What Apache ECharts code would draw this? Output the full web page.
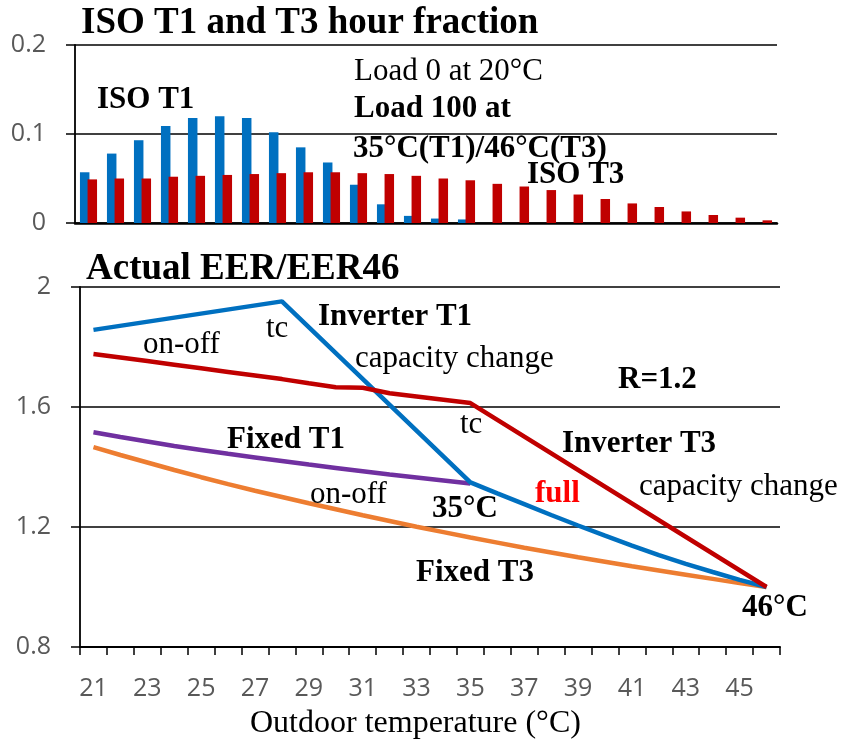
<!DOCTYPE html>
<html>
<head>
<meta charset="utf-8">
<title>ISO T1 and T3 hour fraction</title>
<script src="https://cdn.jsdelivr.net/npm/echarts@6.0.0/dist/echarts.min.js"></script>
<style>
  html, body { margin: 0; padding: 0; background: #fff; }
  #chart { width: 843px; height: 747px; }
</style>
</head>
<body>
<div id="chart"></div>
<script>
  // x轴: 室外温度
  var temps = ['21', '22', '23', '24', '25', '26', '27', '28', '29', '30', '31', '32', '33',
    '34', '35', '36', '37', '38', '39', '40', '41', '42', '43', '44', '45', '46']

  // 上图: 小时分布
  var isoT1 = [0.057, 0.078, 0.093, 0.109, 0.118, 0.120, 0.118, 0.102, 0.085, 0.068, 0.043, 0.021, 0.008,
    0.005, 0.004, 0, 0, 0, 0, 0, 0, 0, 0, 0, 0, 0]
  var isoT3 = [0.049, 0.050, 0.050, 0.052, 0.053, 0.054, 0.055, 0.056, 0.057, 0.057, 0.056, 0.055, 0.053,
    0.050, 0.048, 0.044, 0.041, 0.037, 0.032, 0.027, 0.022, 0.018, 0.013, 0.009, 0.006, 0.003]

  // 下图: EER/EER46 (null = straight segment)
  var inverterT1 = [1.857, null, null, null, null, null, null, 1.952, null, null, null, null, null,
    null, 1.349, 1.312, 1.276, 1.240, 1.205, 1.171, 1.138, 1.106, 1.077, 1.050, 1.024, 1.000]
  var inverterT3 = [1.777, 1.765, 1.753, 1.741, 1.729, 1.717, 1.705, 1.693, 1.679, 1.666, 1.664, 1.646, 1.635,
    1.624, 1.613, null, null, null, null, null, null, null, null, null, null, 1.000]
  var fixedT1 = [1.516, 1.500, 1.485, 1.470, 1.457, 1.444, 1.432, 1.420, 1.408, 1.397, 1.386, 1.375, 1.365,
    1.355, 1.345, null, null, null, null, null, null, null, null, null, null, null]
  var fixedT3 = [1.466, 1.440, 1.415, 1.390, 1.366, 1.343, 1.321, 1.300, 1.279, 1.259, 1.239, 1.220, 1.201,
    1.183, 1.165, 1.148, 1.131, 1.115, 1.099, 1.084, 1.069, 1.055, 1.041, 1.027, 1.013, 1.000]

  var axisFont = {fontFamily: 'Open Sans', fontSize: 25, color: '#595959'}

  // 文字标注
  function note(text, x, y, bold, size, color) {
    return {
      type: 'text',
      x: x,
      y: y + 2,
      z: 100,
      style: {
        text: text,
        font: (bold ? 'bold ' : '') + (size || 31) + 'px "Liberation Serif", serif',
        fill: color || '#000',
        verticalAlign: 'middle'
      }
    }
  }

  var notes = [
    note('ISO T1 and T3 hour fraction', 81, 21, true, 37),
    note('Actual EER/EER46', 86, 267, true, 37),
    note('ISO T1', 97, 97.5, true),
    note('Load 0 at 20°C', 354, 69.5, false),
    note('Load 100 at', 354, 106.5, true),
    note('35°C(T1)/46°C(T3)', 353, 146.5, true),
    note('ISO T3', 527, 172.5, true),
    note('tc', 266, 326.5, false),
    note('Inverter T1', 318, 314.5, true),
    note('on-off', 143, 342.5, false),
    note('capacity change', 355, 356.5, false),
    note('R=1.2', 618, 377.5, true),
    note('tc', 460, 422.5, false),
    note('Fixed T1', 227, 437.5, true),
    note('Inverter T3', 562, 441.5, true),
    note('on-off', 310, 492.5, false),
    note('full', 535, 491.5, true, 31, '#ff0000'),
    note('capacity change', 639, 484.5, false),
    note('35°C', 432, 506.5, true),
    note('Fixed T3', 416, 570.5, true),
    note('46°C', 742, 605.5, true),
    note('Outdoor temperature (°C)', 250, 722, false, 32)
  ]

  var chart = echarts.init(document.getElementById('chart'))
  chart.setOption({
    backgroundColor: '#fff',
    animation: false,
    grid: [
      {left: 75, right: 66, top: 45, height: 178},
      {left: 80, right: 63, top: 287, height: 360}
    ],
    xAxis: [
      {
        type: 'category',
        gridIndex: 0,
        data: temps,
        axisLine: {lineStyle: {color: '#000', width: 2.5}},
        axisTick: {show: false},
        axisLabel: {show: false}
      },
      {
        type: 'category',
        gridIndex: 1,
        data: temps,
        axisLine: {lineStyle: {color: '#000', width: 2}},
        axisTick: {show: true, interval: 0, length: 8, lineStyle: {color: '#000', width: 1.5}},
        axisLabel: Object.assign({interval: 1, margin: 29}, axisFont)
      }
    ],
    yAxis: [
      {
        type: 'value',
        gridIndex: 0,
        min: 0,
        max: 0.2,
        interval: 0.1,
        axisLine: {show: true, lineStyle: {color: '#000', width: 1.8}},
        axisTick: {show: true, length: 9, lineStyle: {color: '#000', width: 1.5}},
        axisLabel: Object.assign({margin: 29}, axisFont),
        splitLine: {lineStyle: {color: '#000', width: 1.5}}
      },
      {
        type: 'value',
        gridIndex: 1,
        min: 0.8,
        max: 2,
        interval: 0.4,
        axisLine: {show: true, lineStyle: {color: '#000', width: 1.8}},
        axisTick: {show: true, length: 9, lineStyle: {color: '#000', width: 1.5}},
        axisLabel: Object.assign({margin: 29}, axisFont),
        splitLine: {lineStyle: {color: '#000', width: 1.5}}
      }
    ],
    series: [
      {
        name: 'ISO T1',
        type: 'bar',
        xAxisIndex: 0,
        yAxisIndex: 0,
        data: isoT1,
        barWidth: 9.5,
        barGap: '-20%',
        itemStyle: {color: '#0070c0'}
      },
      {
        name: 'ISO T3',
        type: 'bar',
        xAxisIndex: 0,
        yAxisIndex: 0,
        data: isoT3,
        barWidth: 9.5,
        itemStyle: {color: '#c00000'}
      },
      {
        name: 'Fixed T3',
        type: 'line',
        xAxisIndex: 1,
        yAxisIndex: 1,
        data: fixedT3,
        symbol: 'none',
        lineStyle: {color: '#ed7d31', width: 4.5}
      },
      {
        name: 'Fixed T1',
        type: 'line',
        xAxisIndex: 1,
        yAxisIndex: 1,
        data: fixedT1,
        symbol: 'none',
        lineStyle: {color: '#7030a0', width: 4.5}
      },
      {
        name: 'Inverter T1',
        type: 'line',
        xAxisIndex: 1,
        yAxisIndex: 1,
        data: inverterT1,
        symbol: 'none',
        connectNulls: true,
        lineStyle: {color: '#0070c0', width: 4.5}
      },
      {
        name: 'Inverter T3',
        type: 'line',
        xAxisIndex: 1,
        yAxisIndex: 1,
        data: inverterT3,
        symbol: 'none',
        connectNulls: true,
        lineStyle: {color: '#c00000', width: 4.5}
      }
    ],
    graphic: notes
  })
</script>
</body>
</html>
